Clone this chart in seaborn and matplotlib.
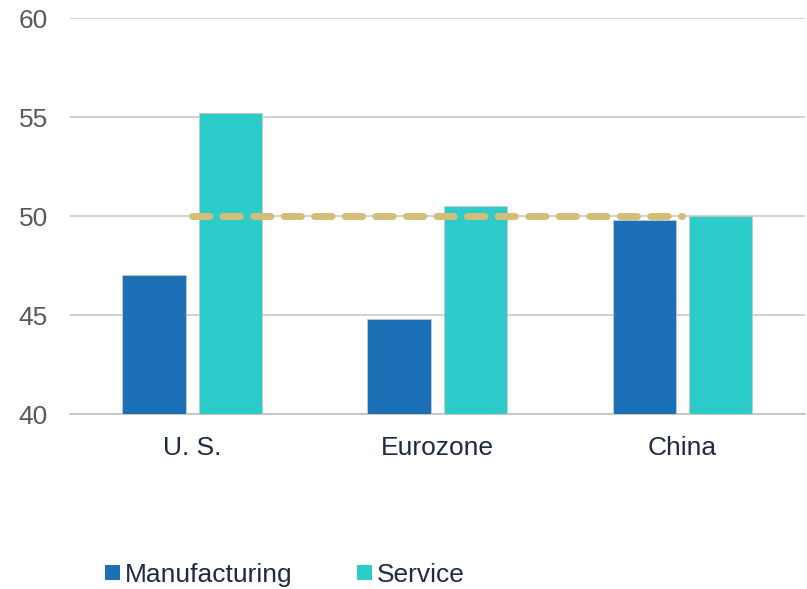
import numpy as np
import pandas as pd
import seaborn as sns
import matplotlib.pyplot as plt
from matplotlib.patches import Patch

# data
regions = ["U. S.", "Eurozone", "China"]
manufacturing = [47.0, 44.8, 49.8]
service = [55.2, 50.5, 50.0]
threshold = [50, 50, 50]

series_names = ["Manufacturing", "Service"]
colors = ["#1C71B6", "#2ECBCB"]

df = pd.DataFrame({
    "region": regions * 2,
    "series": [series_names[0]] * 3 + [series_names[1]] * 3,
    "value": manufacturing + service,
})

sns.set_theme(style="white")
plt.rcParams["font.family"] = ["Liberation Sans", "DejaVu Sans"]

fig = plt.figure(figsize=(8.07, 5.89), dpi=100)
ax = fig.add_axes([0.0867, 0.297, 0.9108, 0.6724])

sns.barplot(data=df, x="region", y="value", hue="series", order=regions,
            hue_order=series_names, palette=colors, saturation=1,
            width=0.626, gap=0.175, edgecolor="#C8C8C8", linewidth=0.6,
            legend=False, ax=ax, zorder=3)

# 50 line = expansion / contraction threshold
ax.plot(np.arange(len(regions)), threshold, color="#D4BD78", linewidth=5,
        dashes=(2.5, 1.9), dash_capstyle="round", solid_capstyle="round",
        zorder=4)

ax.set_ylim(40, 60)
ax.set_xlim(-0.5, 2.5)
ax.set_yticks([40, 45, 50, 55, 60])
ax.yaxis.grid(True, color="#CACACA", linewidth=1.2)
ax.set_axisbelow(True)
ax.set_xlabel("")
ax.set_ylabel("")

for side in ["left", "right", "top"]:
    ax.spines[side].set_visible(False)
ax.spines["bottom"].set_color("#BFBFBF")
ax.spines["bottom"].set_linewidth(1.2)

ax.tick_params(axis="y", length=0, pad=16, labelsize=19, labelcolor="#595959")
ax.tick_params(axis="x", which="major", length=0, pad=16, labelsize=19,
               labelcolor="#1F2A44")
ax.set_xticks([-0.5, 0.5, 1.5, 2.5], minor=True)
ax.tick_params(axis="x", which="minor", length=6, width=1.2, color="#BFBFBF",
               direction="out")

handles = [Patch(facecolor=c, edgecolor="none") for c in colors]
fig.legend(handles, series_names, loc="center", bbox_to_anchor=(0.353, 0.024),
           ncol=2, frameon=False, fontsize=19, handlelength=0.55,
           handleheight=0.55, handletextpad=0.2, columnspacing=2.45,
           labelcolor="#1F2A44", borderpad=0)

fig.savefig("out.png", dpi=100)
